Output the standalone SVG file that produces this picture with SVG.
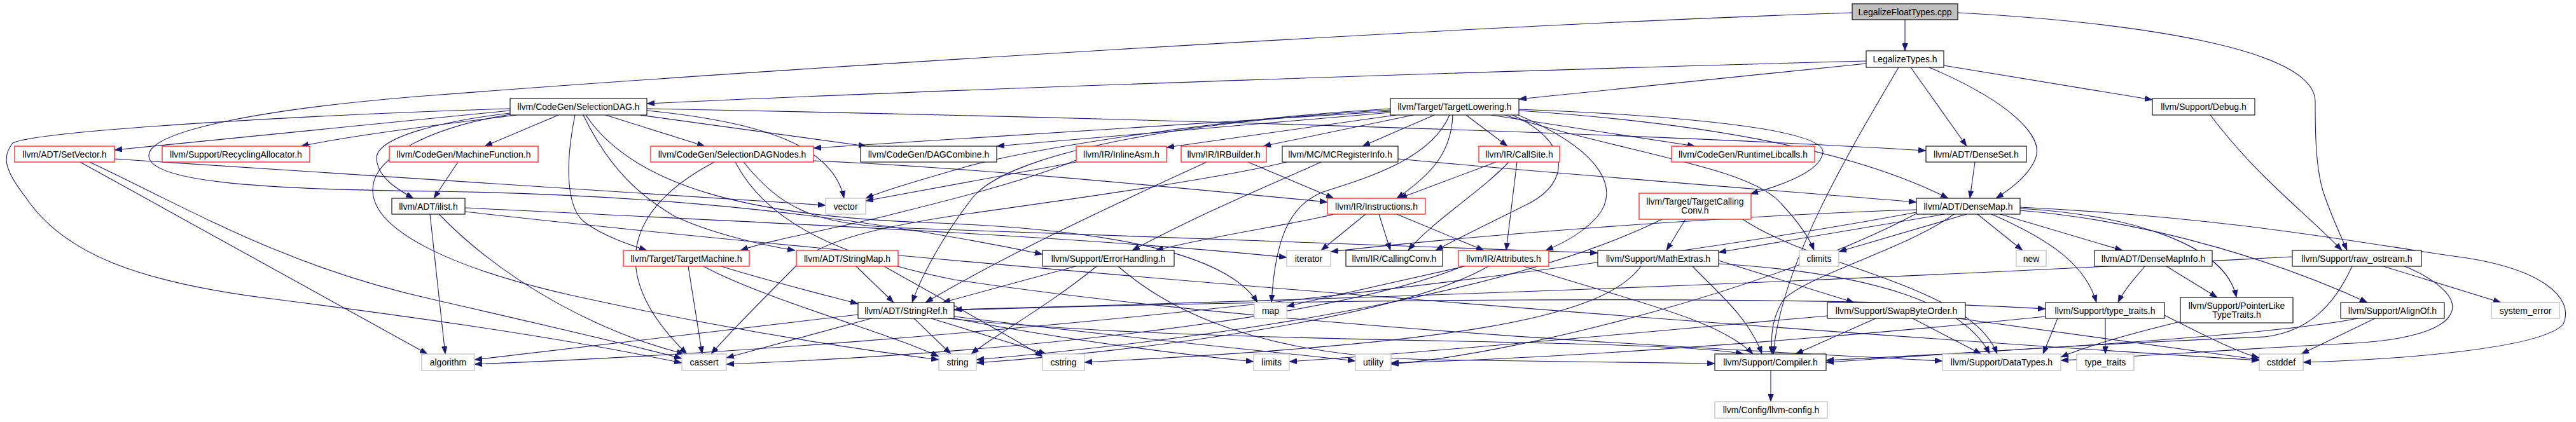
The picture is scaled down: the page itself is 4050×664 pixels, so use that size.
<svg xmlns="http://www.w3.org/2000/svg" width="4050" height="664" viewBox="0 0 4050 664">
<style>
.e path{fill:none;stroke:#191970;stroke-width:1.1;marker-end:url(#a)}
.n rect{fill:#fff;stroke:#000;stroke-width:1.1}
.n.r rect{stroke:#ff2020;stroke-width:1.3}
.n.g rect{stroke:#bfbfbf;stroke-width:1.3}
.n.root rect{fill:#bfbfbf}
text{font-family:"Liberation Sans",Arial,Helvetica,sans-serif;font-size:14px;text-anchor:middle;fill:#000}
</style>
<defs>
<marker id="a" markerWidth="12" markerHeight="9" refX="12" refY="4.5" orient="auto" markerUnits="userSpaceOnUse"><path d="M0,0 L12,4.5 L0,9 z" fill="#191970" stroke="#191970" stroke-width="0.5"/></marker>
</defs>
<rect x="0" y="0" width="4050" height="664" fill="#fff"/>
<g id="edges" class="e">
<path d="M2995,31 L2995,80"/>
<path d="M2912,20 C2300,40 1200,110 680,150 C420,170 234,205 234,245 C234,285 400,298 680,301 C1050,306 1350,340 1639,400"/>
<path d="M3078,20 C3350,35 3640,75 3640,160 C3640,200 3640,260 3652,300 C3665,340 3680,370 3690,394"/>
<path d="M2934,96 C2400,110 1500,140 1017,163"/>
<path d="M2934,100 L2388,156"/>
<path d="M3004,106 L3092,230"/>
<path d="M3033,106 C3160,160 3215,215 3200,250 C3190,275 3165,295 3138,312"/>
<path d="M3056,103 L3384,157"/>
<path d="M2985,106 C2900,250 2800,420 2788,557"/>
<path d="M802,174 L180,236"/>
<path d="M812,181 C700,195 560,212 473,230"/>
<path d="M878,181 L762,230"/>
<path d="M802,178 C700,190 590,215 592,250 C594,280 625,298 650,312"/>
<path d="M952,181 L1108,230"/>
<path d="M1006,181 L1362,230"/>
<path d="M1017,174 C1200,192 1310,230 1327,312"/>
<path d="M1017,171 C1600,182 2500,205 3028,237"/>
<path d="M904,181 C888,260 890,330 921,351 C950,372 990,385 1017,394"/>
<path d="M917,181 C960,270 1010,310 1060,340 C1120,368 1200,386 1250,394"/>
<path d="M921,181 C1000,300 1200,340 1450,350 C1750,360 1930,400 1977,476"/>
<path d="M802,171 C500,180 60,205 20,225 C4,245 5,265 40,310 C100,400 220,445 434,471 C700,505 900,535 1072,571"/>
<path d="M802,180 C680,200 585,245 586,300 C587,360 700,420 900,465 C1150,520 1350,550 1476,566"/>
<path d="M2186,171 C1900,188 1620,235 1520,262 C1430,288 1390,300 1361,312"/>
<path d="M2186,173 C1800,195 1580,250 1530,310 C1490,360 1450,430 1434,476"/>
<path d="M2186,175 L1279,233"/>
<path d="M2186,177 L1567,230"/>
<path d="M2195,181 L1834,232"/>
<path d="M2222,181 L1986,230"/>
<path d="M2255,181 L2142,230"/>
<path d="M2284,181 C2282,240 2250,275 2196,312"/>
<path d="M2305,181 L2370,230"/>
<path d="M2344,181 L2665,230"/>
<path d="M2388,172 C2600,180 2870,200 2866,240 C2862,270 2800,292 2752,305"/>
<path d="M2388,174 C2700,195 2920,240 3063,312"/>
<path d="M2366,181 C2550,240 2750,262 2800,320 C2828,350 2845,375 2852,394"/>
<path d="M2378,181 C2465,220 2475,285 2400,322 C2340,352 2290,376 2257,394"/>
<path d="M2387,181 C2525,240 2545,300 2512,340 C2490,365 2460,382 2430,394"/>
<path d="M2279,181 C2250,250 2150,280 2080,302 C2030,322 2005,370 1999,476"/>
<path d="M1692,255 L1361,316"/>
<path d="M1692,252 C1600,290 1450,325 1392,340 C1300,362 1210,378 1164,394"/>
<path d="M1897,255 C1800,300 1600,390 1455,476"/>
<path d="M1962,255 L2097,312"/>
<path d="M2023,255 C1900,285 1600,325 1496,340 C1400,355 1300,375 1260,410 C1210,460 1150,520 1118,557"/>
<path d="M2077,255 C2000,290 1900,330 1780,394"/>
<path d="M2198,250 C2500,278 2800,300 3013,318"/>
<path d="M1082,419 L1104,557"/>
<path d="M1134,419 C1200,440 1300,465 1349,478"/>
<path d="M1106,419 C1200,470 1400,525 1476,561"/>
<path d="M1346,419 L1405,476"/>
<path d="M1390,419 C1480,470 1590,530 1639,561"/>
<path d="M1691,419 L1482,476"/>
<path d="M1724,419 C1650,480 1560,530 1527,557"/>
<path d="M1758,419 C1850,500 2000,560 2250,566 C2480,570 2620,570 2696,572"/>
<path d="M1349,495 L746,566"/>
<path d="M1370,501 L1142,563"/>
<path d="M1437,501 L1495,557"/>
<path d="M1464,501 L1645,557"/>
<path d="M1490,501 C1900,545 2600,530 2741,557"/>
<path d="M1495,500 C1700,540 1900,562 1971,569"/>
<path d="M1500,498 C1800,535 2020,555 2131,568"/>
<path d="M1500,488 C2000,472 2800,462 3216,486"/>
<path d="M2303,419 L2023,482"/>
<path d="M2300,419 C2100,500 1600,555 1142,573"/>
<path d="M2340,419 C2200,500 1800,552 1535,571"/>
<path d="M2396,419 C2550,470 2700,500 2756,557"/>
<path d="M1123,255 C1000,320 940,420 1080,557"/>
<path d="M1279,253 C1500,262 1800,290 2087,318"/>
<path d="M1169,255 C1230,330 1280,350 1400,358 C1800,372 2200,385 2512,398"/>
<path d="M1156,255 C1200,340 1300,400 1500,440 C2000,515 2700,550 3054,568"/>
<path d="M676,337 L700,557"/>
<path d="M690,337 C800,450 950,525 1076,557"/>
<path d="M731,327 C1200,350 1700,372 2023,405"/>
<path d="M731,333 C1500,420 2800,520 3552,567"/>
<path d="M2097,337 C2050,350 1900,372 1817,394"/>
<path d="M2147,337 L2077,394"/>
<path d="M2168,337 L2186,394"/>
<path d="M2196,337 L2333,394"/>
<path d="M2352,255 L2200,312"/>
<path d="M2372,255 C2330,300 2250,350 2214,394"/>
<path d="M2385,255 L2368,394"/>
<path d="M2650,345 L2620,394"/>
<path d="M2613,345 C2400,450 2000,525 1535,566"/>
<path d="M2740,345 C2850,420 3100,450 3140,557"/>
<path d="M2661,419 C2700,460 2750,500 2770,557"/>
<path d="M2702,410 L2915,476"/>
<path d="M2702,415 C2950,430 3090,480 3128,557"/>
<path d="M2580,419 C2520,500 2300,540 1705,570"/>
<path d="M2949,501 L2823,557"/>
<path d="M3007,501 L3115,557"/>
<path d="M3079,501 C3300,530 3450,552 3552,566"/>
<path d="M2873,497 C2500,530 2200,558 2027,569"/>
<path d="M3310,501 L3310,557"/>
<path d="M3235,501 L3212,557"/>
<path d="M3216,498 C2900,530 2500,562 2187,571"/>
<path d="M3403,496 C3470,530 3520,555 3552,563"/>
<path d="M3372,419 C3355,440 3340,455 3330,476"/>
<path d="M3406,419 L3486,468"/>
<path d="M3428,506 C3350,525 3280,545 3240,562"/>
<path d="M3604,404 C3300,420 2600,458 1500,487"/>
<path d="M3698,419 C3670,480 3630,522 3560,530 C3200,545 3000,562 2871,570"/>
<path d="M3781,419 C3900,470 3880,530 3700,540 C3500,550 3350,562 3240,567"/>
<path d="M3747,419 L3932,476"/>
<path d="M3734,501 L3618,557"/>
<path d="M3707,501 C3600,522 3300,545 2871,567"/>
<path d="M2784,583 L2784,632"/>
<path d="M3105,255 L3097,312"/>
<path d="M3057,337 L2702,397"/>
<path d="M3092,337 L2891,396"/>
<path d="M3109,337 L3180,394"/>
<path d="M3145,337 L3337,394"/>
<path d="M3131,337 C3230,380 3280,420 3296,476"/>
<path d="M3072,337 C3000,390 2850,430 2805,470 C2785,500 2784,530 2786,557"/>
<path d="M3176,331 C3400,350 3600,420 3722,476"/>
<path d="M3176,328 C3350,338 3500,385 3516,468"/>
<path d="M3176,326 C3500,342 3700,380 3850,402 C4000,420 4048,470 4030,510 C3995,550 3760,566 3621,570"/>
<path d="M3013,330 C2700,340 2300,372 2092,396"/>
<path d="M3013,334 C2500,430 1500,545 746,573"/>
<path d="M3013,336 C2800,450 2400,555 2187,573"/>
<path d="M180,250 C600,275 1000,302 1298,323"/>
<path d="M126,255 L672,557"/>
<path d="M141,255 C300,330 450,420 680,471 C850,510 1000,545 1072,564"/>
<path d="M720,255 L682,312"/>
<path d="M3475,181 C3550,280 3620,330 3682,394"/>
</g>
<g id="n_root" class="n root"><rect x="2912" y="6" width="166" height="25"/><text x="2995" y="23.5">LegalizeFloatTypes.cpp</text></g>
<g id="n_lt" class="n"><rect x="2934" y="80" width="122" height="26"/><text x="2995" y="98">LegalizeTypes.h</text></g>
<g id="n_sdag" class="n"><rect x="802" y="155" width="215" height="26"/><text x="909.5" y="173">llvm/CodeGen/SelectionDAG.h</text></g>
<g id="n_tl" class="n"><rect x="2186" y="155" width="202" height="26"/><text x="2287" y="173">llvm/Target/TargetLowering.h</text></g>
<g id="n_debug" class="n"><rect x="3384" y="155" width="161" height="26"/><text x="3464.5" y="173">llvm/Support/Debug.h</text></g>
<g id="n_setvec" class="n r"><rect x="23" y="230" width="157" height="25"/><text x="101.5" y="247.5">llvm/ADT/SetVector.h</text></g>
<g id="n_recyc" class="n r"><rect x="255" y="230" width="232" height="25"/><text x="371" y="247.5">llvm/Support/RecyclingAllocator.h</text></g>
<g id="n_mf" class="n r"><rect x="612" y="230" width="234" height="25"/><text x="729" y="247.5">llvm/CodeGen/MachineFunction.h</text></g>
<g id="n_sdn" class="n r"><rect x="1023" y="230" width="256" height="25"/><text x="1151" y="247.5">llvm/CodeGen/SelectionDAGNodes.h</text></g>
<g id="n_dagc" class="n"><rect x="1353" y="230" width="214" height="25"/><text x="1460" y="247.5">llvm/CodeGen/DAGCombine.h</text></g>
<g id="n_inline" class="n r"><rect x="1692" y="230" width="142" height="25"/><text x="1763" y="247.5">llvm/IR/InlineAsm.h</text></g>
<g id="n_irb" class="n r"><rect x="1857" y="230" width="134" height="25"/><text x="1924" y="247.5">llvm/IR/IRBuilder.h</text></g>
<g id="n_mcri" class="n"><rect x="2016" y="230" width="182" height="25"/><text x="2107" y="247.5">llvm/MC/MCRegisterInfo.h</text></g>
<g id="n_cs" class="n r"><rect x="2325" y="230" width="127" height="25"/><text x="2388.5" y="247.5">llvm/IR/CallSite.h</text></g>
<g id="n_rtl" class="n r"><rect x="2628" y="230" width="225" height="25"/><text x="2740.5" y="247.5">llvm/CodeGen/RuntimeLibcalls.h</text></g>
<g id="n_dset" class="n"><rect x="3028" y="230" width="158" height="25"/><text x="3107" y="247.5">llvm/ADT/DenseSet.h</text></g>
<g id="n_ilist" class="n"><rect x="616" y="312" width="115" height="25"/><text x="673.5" y="329.5">llvm/ADT/ilist.h</text></g>
<g id="n_vector" class="n g"><rect x="1298" y="312" width="63" height="25"/><text x="1329.5" y="329.5">vector</text></g>
<g id="n_instr" class="n r"><rect x="2087" y="312" width="154" height="25"/><text x="2164" y="329.5">llvm/IR/Instructions.h</text></g>
<g id="n_tcc" class="n r"><rect x="2577" y="304" width="176" height="41"/><text x="2665" y="321.5">llvm/Target/TargetCalling</text><text x="2665" y="335.5">Conv.h</text></g>
<g id="n_dmap" class="n"><rect x="3013" y="312" width="163" height="25"/><text x="3094.5" y="329.5">llvm/ADT/DenseMap.h</text></g>
<g id="n_tm" class="n r"><rect x="980" y="394" width="198" height="25"/><text x="1079" y="411.5">llvm/Target/TargetMachine.h</text></g>
<g id="n_smap" class="n r"><rect x="1252" y="394" width="160" height="25"/><text x="1332" y="411.5">llvm/ADT/StringMap.h</text></g>
<g id="n_err" class="n"><rect x="1639" y="394" width="207" height="25"/><text x="1742.5" y="411.5">llvm/Support/ErrorHandling.h</text></g>
<g id="n_iter" class="n g"><rect x="2023" y="394" width="69" height="25"/><text x="2057.5" y="411.5">iterator</text></g>
<g id="n_cc" class="n"><rect x="2116" y="394" width="152" height="25"/><text x="2192" y="411.5">llvm/IR/CallingConv.h</text></g>
<g id="n_attr" class="n r"><rect x="2293" y="394" width="142" height="25"/><text x="2364" y="411.5">llvm/IR/Attributes.h</text></g>
<g id="n_math" class="n"><rect x="2512" y="394" width="190" height="25"/><text x="2607" y="411.5">llvm/Support/MathExtras.h</text></g>
<g id="n_climits" class="n g"><rect x="2829" y="394" width="62" height="25"/><text x="2860" y="411.5">climits</text></g>
<g id="n_new" class="n g"><rect x="3170" y="394" width="47" height="25"/><text x="3193.5" y="411.5">new</text></g>
<g id="n_dmi" class="n"><rect x="3293" y="394" width="185" height="25"/><text x="3385.5" y="411.5">llvm/ADT/DenseMapInfo.h</text></g>
<g id="n_raw" class="n"><rect x="3604" y="394" width="203" height="25"/><text x="3705.5" y="411.5">llvm/Support/raw_ostream.h</text></g>
<g id="n_sref" class="n"><rect x="1349" y="476" width="151" height="25"/><text x="1424.5" y="493.5">llvm/ADT/StringRef.h</text></g>
<g id="n_map" class="n g"><rect x="1972" y="476" width="51" height="25"/><text x="1997.5" y="493.5">map</text></g>
<g id="n_swap" class="n"><rect x="2873" y="476" width="217" height="25"/><text x="2981.5" y="493.5">llvm/Support/SwapByteOrder.h</text></g>
<g id="n_tth" class="n"><rect x="3216" y="476" width="187" height="25"/><text x="3309.5" y="493.5">llvm/Support/type_traits.h</text></g>
<g id="n_plt" class="n"><rect x="3428" y="468" width="177" height="40"/><text x="3516.5" y="485.5">llvm/Support/PointerLike</text><text x="3516.5" y="499.5">TypeTraits.h</text></g>
<g id="n_align" class="n"><rect x="3680" y="476" width="163" height="25"/><text x="3761.5" y="493.5">llvm/Support/AlignOf.h</text></g>
<g id="n_syserr" class="n g"><rect x="3917" y="476" width="107" height="25"/><text x="3970.5" y="493.5">system_error</text></g>
<g id="n_algo" class="n g"><rect x="663" y="557" width="83" height="26"/><text x="704.5" y="575">algorithm</text></g>
<g id="n_cassert" class="n g"><rect x="1072" y="557" width="70" height="26"/><text x="1107" y="575">cassert</text></g>
<g id="n_string" class="n g"><rect x="1476" y="557" width="59" height="26"/><text x="1505.5" y="575">string</text></g>
<g id="n_cstring" class="n g"><rect x="1639" y="557" width="66" height="26"/><text x="1672" y="575">cstring</text></g>
<g id="n_limits" class="n g"><rect x="1971" y="557" width="56" height="26"/><text x="1999" y="575">limits</text></g>
<g id="n_utility" class="n g"><rect x="2131" y="557" width="56" height="26"/><text x="2159" y="575">utility</text></g>
<g id="n_compiler" class="n"><rect x="2696" y="557" width="175" height="26"/><text x="2783.5" y="575">llvm/Support/Compiler.h</text></g>
<g id="n_dtypes" class="n g"><rect x="3054" y="557" width="186" height="26"/><text x="3147" y="575">llvm/Support/DataTypes.h</text></g>
<g id="n_tt" class="n g"><rect x="3265" y="557" width="90" height="26"/><text x="3310" y="575">type_traits</text></g>
<g id="n_cstddef" class="n g"><rect x="3552" y="557" width="69" height="26"/><text x="3586.5" y="575">cstddef</text></g>
<g id="n_config" class="n g"><rect x="2696" y="632" width="177" height="26"/><text x="2784.5" y="650">llvm/Config/llvm-config.h</text></g>
</svg>
